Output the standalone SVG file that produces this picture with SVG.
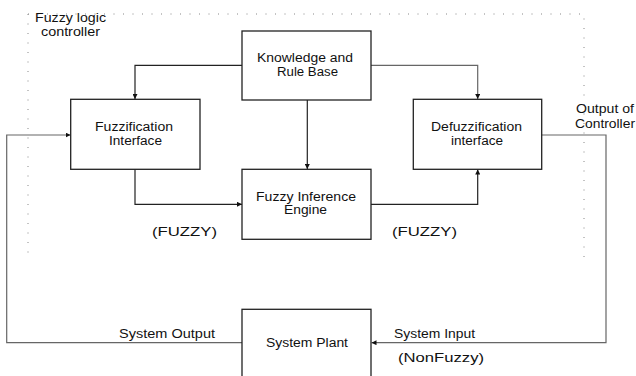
<svg xmlns="http://www.w3.org/2000/svg" width="636" height="376" viewBox="0 0 636 376">
<style>
.box{fill:#fff;stroke:#222;stroke-width:1.3}
.conn{fill:none;stroke:#222;stroke-width:1.2}
.lt{stroke:#666}
text{font-family:"Liberation Sans",Arial,sans-serif;font-size:12px;fill:#111}
.big{font-size:13px}
</style>
<defs>
<marker id="ah" viewBox="0 0 10 10" refX="10" refY="5" markerWidth="5" markerHeight="5" orient="auto" markerUnits="userSpaceOnUse">
<path d="M0,0 L10,5 L0,10 z" fill="#111"/>
</marker>
</defs>
<rect x="0" y="0" width="636" height="376" fill="#fff"/>
<g id="controller-boundary">
<path d="M28,14 H584 V257 M28,14 V257" fill="none" stroke="#888" stroke-width="1" stroke-dasharray="1 8.5"/>
<text x="35" y="21.5" textLength="71" lengthAdjust="spacingAndGlyphs">Fuzzy logic</text>
<text x="41" y="35.5" textLength="59" lengthAdjust="spacingAndGlyphs">controller</text>
</g>
<g id="connectors">
<path class="conn" d="M242,65.3 H135 V99" marker-end="url(#ah)"/>
<path class="conn lt" d="M371,65.3 H477.7 V99" marker-end="url(#ah)"/>
<path class="conn" d="M307.3,100 V169" marker-end="url(#ah)"/>
<path class="conn" d="M135,169.3 V204.3 H242" marker-end="url(#ah)"/>
<path class="conn" d="M371,204.3 H477.7 V169.5" marker-end="url(#ah)"/>
<path class="conn lt" d="M541.7,135 H606 V342.7 H371.5" marker-end="url(#ah)"/>
<path class="conn lt" d="M242,342.7 H6.7 V135 H70.5" marker-end="url(#ah)"/>
</g>
<g id="knowledge">
<rect class="box" x="242" y="31" width="129" height="69"/>
<text x="257" y="61.7" textLength="96" lengthAdjust="spacingAndGlyphs">Knowledge and</text>
<text x="277" y="75.7" textLength="61" lengthAdjust="spacingAndGlyphs">Rule Base</text>
</g>
<g id="fuzzification">
<rect class="box" x="70.7" y="99.3" width="129.3" height="70"/>
<text x="95" y="131" textLength="78" lengthAdjust="spacingAndGlyphs">Fuzzification</text>
<text x="109" y="145" textLength="53" lengthAdjust="spacingAndGlyphs">Interface</text>
</g>
<g id="defuzzification">
<rect class="box" x="413.3" y="99.3" width="128.4" height="70"/>
<text x="431" y="131" textLength="91" lengthAdjust="spacingAndGlyphs">Defuzzification</text>
<text x="451" y="145" textLength="52" lengthAdjust="spacingAndGlyphs">interface</text>
</g>
<g id="inference">
<rect class="box" x="242" y="169.3" width="129" height="70"/>
<text x="256" y="200.7" textLength="100" lengthAdjust="spacingAndGlyphs">Fuzzy Inference</text>
<text x="284" y="214" textLength="43" lengthAdjust="spacingAndGlyphs">Engine</text>
</g>
<g id="plant">
<rect class="box" x="242" y="309.3" width="129" height="80"/>
<text x="266" y="346.7" textLength="82" lengthAdjust="spacingAndGlyphs">System Plant</text>
</g>
<g id="labels">
<text x="576" y="113" textLength="58" lengthAdjust="spacingAndGlyphs">Output of</text>
<text x="575" y="128" textLength="60" lengthAdjust="spacingAndGlyphs">Controller</text>
<text class="big" x="152" y="236" textLength="65" lengthAdjust="spacingAndGlyphs">(FUZZY)</text>
<text class="big" x="392" y="236" textLength="65" lengthAdjust="spacingAndGlyphs">(FUZZY)</text>
<text x="119" y="337.7" textLength="96" lengthAdjust="spacingAndGlyphs">System  Output</text>
<text x="394" y="337.7" textLength="81" lengthAdjust="spacingAndGlyphs">System Input</text>
<text class="big" x="398" y="361.5" textLength="86" lengthAdjust="spacingAndGlyphs">(NonFuzzy)</text>
</g>
</svg>
